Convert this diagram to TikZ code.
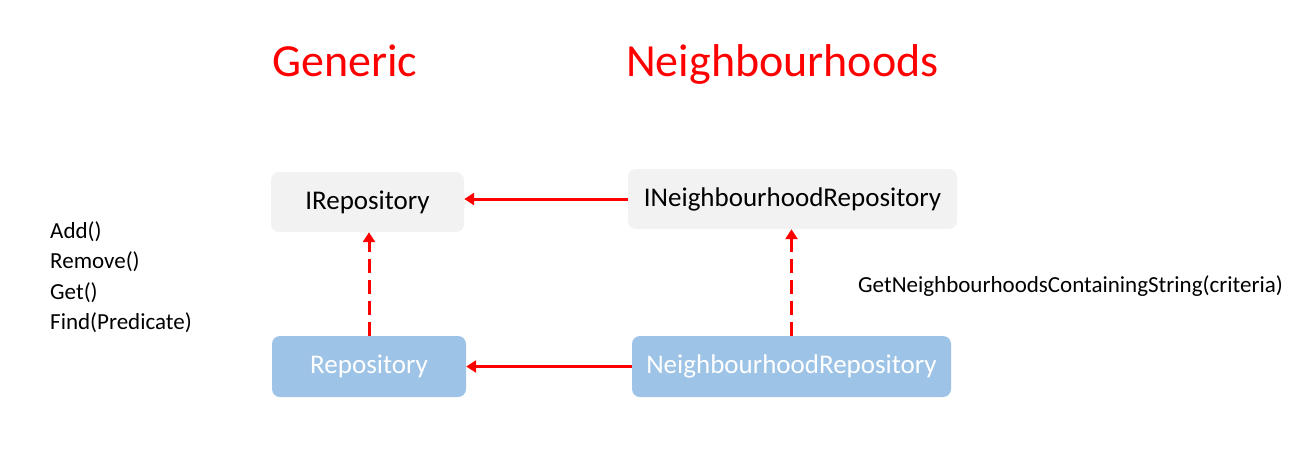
\documentclass[tikz,border=0pt]{standalone}
\usepackage{fontspec}
\setmainfont{Carlito}
\usetikzlibrary{arrows.meta}
\definecolor{boxgray}{HTML}{F2F2F2}
\definecolor{boxblue}{HTML}{9DC3E6}
\tikzset{
  iface/.style={fill=boxgray, rounded corners=8pt, inner sep=0pt, font=\fontsize{27}{32}\selectfont},
  impl/.style={fill=boxblue, rounded corners=8pt, inner sep=0pt, text=white, font=\fontsize{27}{32}\selectfont},
  title/.style={text=red, inner sep=0pt, anchor=base west, font=\fontsize{46}{55}\selectfont},
  note/.style={inner sep=0pt, anchor=base west, font=\fontsize{23}{30.5}\selectfont},
  rel/.style={red, line width=3pt, -{Triangle[length=10pt,width=12pt]}},
  realize/.style={rel, dash pattern=on 14pt off 7pt}
}
\begin{document}
\begin{tikzpicture}[x=1pt,y=-1pt]
\useasboundingbox (0,0) rectangle (1306,464);

% column titles
\node[title] (tgen) at (272,76) {Generic};
\node[title] (tnb) at (626,76) {Neighbourhoods};

% boxes
\node[iface, minimum width=193pt, minimum height=60pt] (irepo) at (367.5,202) {IRepository};
\node[impl, minimum width=194pt, minimum height=61pt] (repo) at (369,366.5) {Repository};
\node[iface, minimum width=329pt, minimum height=60pt] (inbrepo) at (792.5,199) {INeighbourhoodRepository};
\node[impl, minimum width=319pt, minimum height=61pt] (nbrepo) at (791.5,366.5) {NeighbourhoodRepository};

% methods
\node[note, align=left] (ops) at (50,329.5) {Add()\\Remove()\\Get()\\Find(Predicate)};
\node[note] (nbops) at (858,292) {GetNeighbourhoodsContainingString(criteria)};

% arrows
\draw[rel] (inbrepo.west) -- (irepo.east |- inbrepo.west);
\draw[rel] (nbrepo.west) -- (repo.east |- nbrepo.west);
\draw[realize] (repo.north) -- (repo.north |- irepo.south);
\draw[realize] (nbrepo.north) -- (nbrepo.north |- inbrepo.south);

\end{tikzpicture}
\end{document}
